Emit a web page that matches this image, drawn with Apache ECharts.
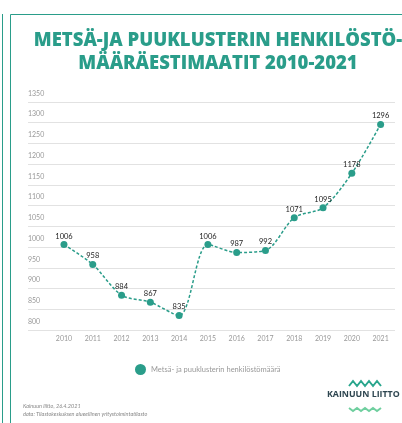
<!DOCTYPE html>
<html>
<head>
<meta charset="utf-8">
<script src="https://cdn.jsdelivr.net/npm/echarts@6/dist/echarts.min.js"></script>
<style>
    html, body { margin: 0; padding: 0; background: #fff; }
    #main { width: 402px; height: 423px; }
</style>
</head>
<body>
<div id="main"></div>
<script>
    // vuodet ja henkilöstömäärät
    const years = [2010, 2011, 2012, 2013, 2014, 2015, 2016, 2017, 2018, 2019, 2020, 2021];
    const staff = [1006, 958, 884, 867, 835, 1006, 987, 992, 1071, 1095, 1178, 1296];
    const titleLines = ['METSÄ-JA PUUKLUSTERIN HENKILÖSTÖ-', 'MÄÄRÄESTIMAATIT 2010-2021'];
    const seriesName = 'Metsä- ja puuklusterin henkilöstömäärä';
    const footer = ['Kainuun liitto, 26.4.2021', 'data: Tilastokeskuksen alueellinen yritystoimintatilasto'];

    const teal = '#2a9d8a';
    const points = years.map((y, i) => [y, staff[i]]);

    let myChart = echarts.init(document.getElementById('main'));
    myChart.setOption({
        animation: false,
        textStyle: { fontFamily: 'Lato' },
        title: {
            text: titleLines.join('\n'),
            left: 213,
            top: 24,
            textAlign: 'center',
            textStyle: { color: teal, fontSize: 18.5, fontWeight: 800, fontFamily: 'Open Sans', lineHeight: 23 }
        },
        legend: {
            data: [seriesName],
            left: 130,
            top: 359,
            icon: 'circle',
            itemWidth: 11,
            itemHeight: 11,
            itemGap: 4,
            textStyle: { color: '#999', fontSize: 7.5, fontFamily: 'Lato' }
        },
        grid: { left: 28, right: 7, top: 102, bottom: 93 },
        xAxis: {
            type: 'value',
            min: 2008.75,
            max: 2021.5,
            splitLine: { show: false },
            axisLine: { show: false },
            axisTick: { show: false },
            axisLabel: {
                customValues: years,
                color: '#999',
                fontSize: 7,
                margin: 5,
                formatter: v => String(v)
            }
        },
        yAxis: {
            type: 'value',
            min: 800,
            max: 1350,
            interval: 50,
            axisLine: { show: false },
            axisTick: { show: false },
            splitLine: { lineStyle: { color: '#e2e2e2', width: 1 } },
            axisLabel: {
                inside: true,
                margin: 0,
                verticalAlign: 'bottom',
                padding: [0, 0, 5, 0],
                color: '#999',
                fontSize: 7,
                formatter: v => String(v)
            }
        },
        series: [{
            name: seriesName,
            type: 'line',
            data: points,
            smooth: 0.3,
            symbol: 'circle',
            symbolSize: 7,
            itemStyle: { color: teal },
            lineStyle: { color: teal, width: 1.5, type: [3, 2] },
            label: {
                show: true,
                position: 'top',
                distance: 1,
                color: '#222',
                fontSize: 7.5,
                formatter: p => p.value[1]
            }
        }],
        graphic: [
            // kehys
            { type: 'line', shape: { x1: 2.5, y1: 14, x2: 2.5, y2: 423 }, style: { stroke: teal, lineWidth: 1 } },
            { type: 'polyline', shape: { points: [[10.5, 423], [10.5, 14.5], [402, 14.5]] }, style: { stroke: teal, lineWidth: 1, fill: null } },
            // lähde
            { type: 'text', left: 23, top: 403, style: { text: footer[0], fill: '#888', fontSize: 5.5, fontFamily: 'Lato', fontStyle: 'italic' } },
            { type: 'text', left: 23, top: 411, style: { text: footer[1], fill: '#888', fontSize: 5.5, fontFamily: 'Lato', fontStyle: 'italic' } },
            // logo
            { type: 'polyline', shape: { points: [[349, 386], [353, 381], [357, 386], [361, 381], [365, 386], [369, 381], [373, 386], [377, 381], [381, 386]] }, style: { stroke: '#2aa68d', lineWidth: 2, fill: null } },
            { type: 'text', left: 327, top: 390, style: { text: 'KAINUUN LIITTO', fill: '#2e4650', fontSize: 8.8, fontWeight: 'bold', fontFamily: 'Open Sans' } },
            { type: 'polyline', smooth: 0.5, shape: { points: [[349, 408], [353, 411], [357, 408], [361, 411], [365, 408], [369, 411], [373, 408], [377, 411], [381, 408]] }, style: { stroke: '#6fcf9f', lineWidth: 2, fill: null } }
        ]
    });
</script>
</body>
</html>
